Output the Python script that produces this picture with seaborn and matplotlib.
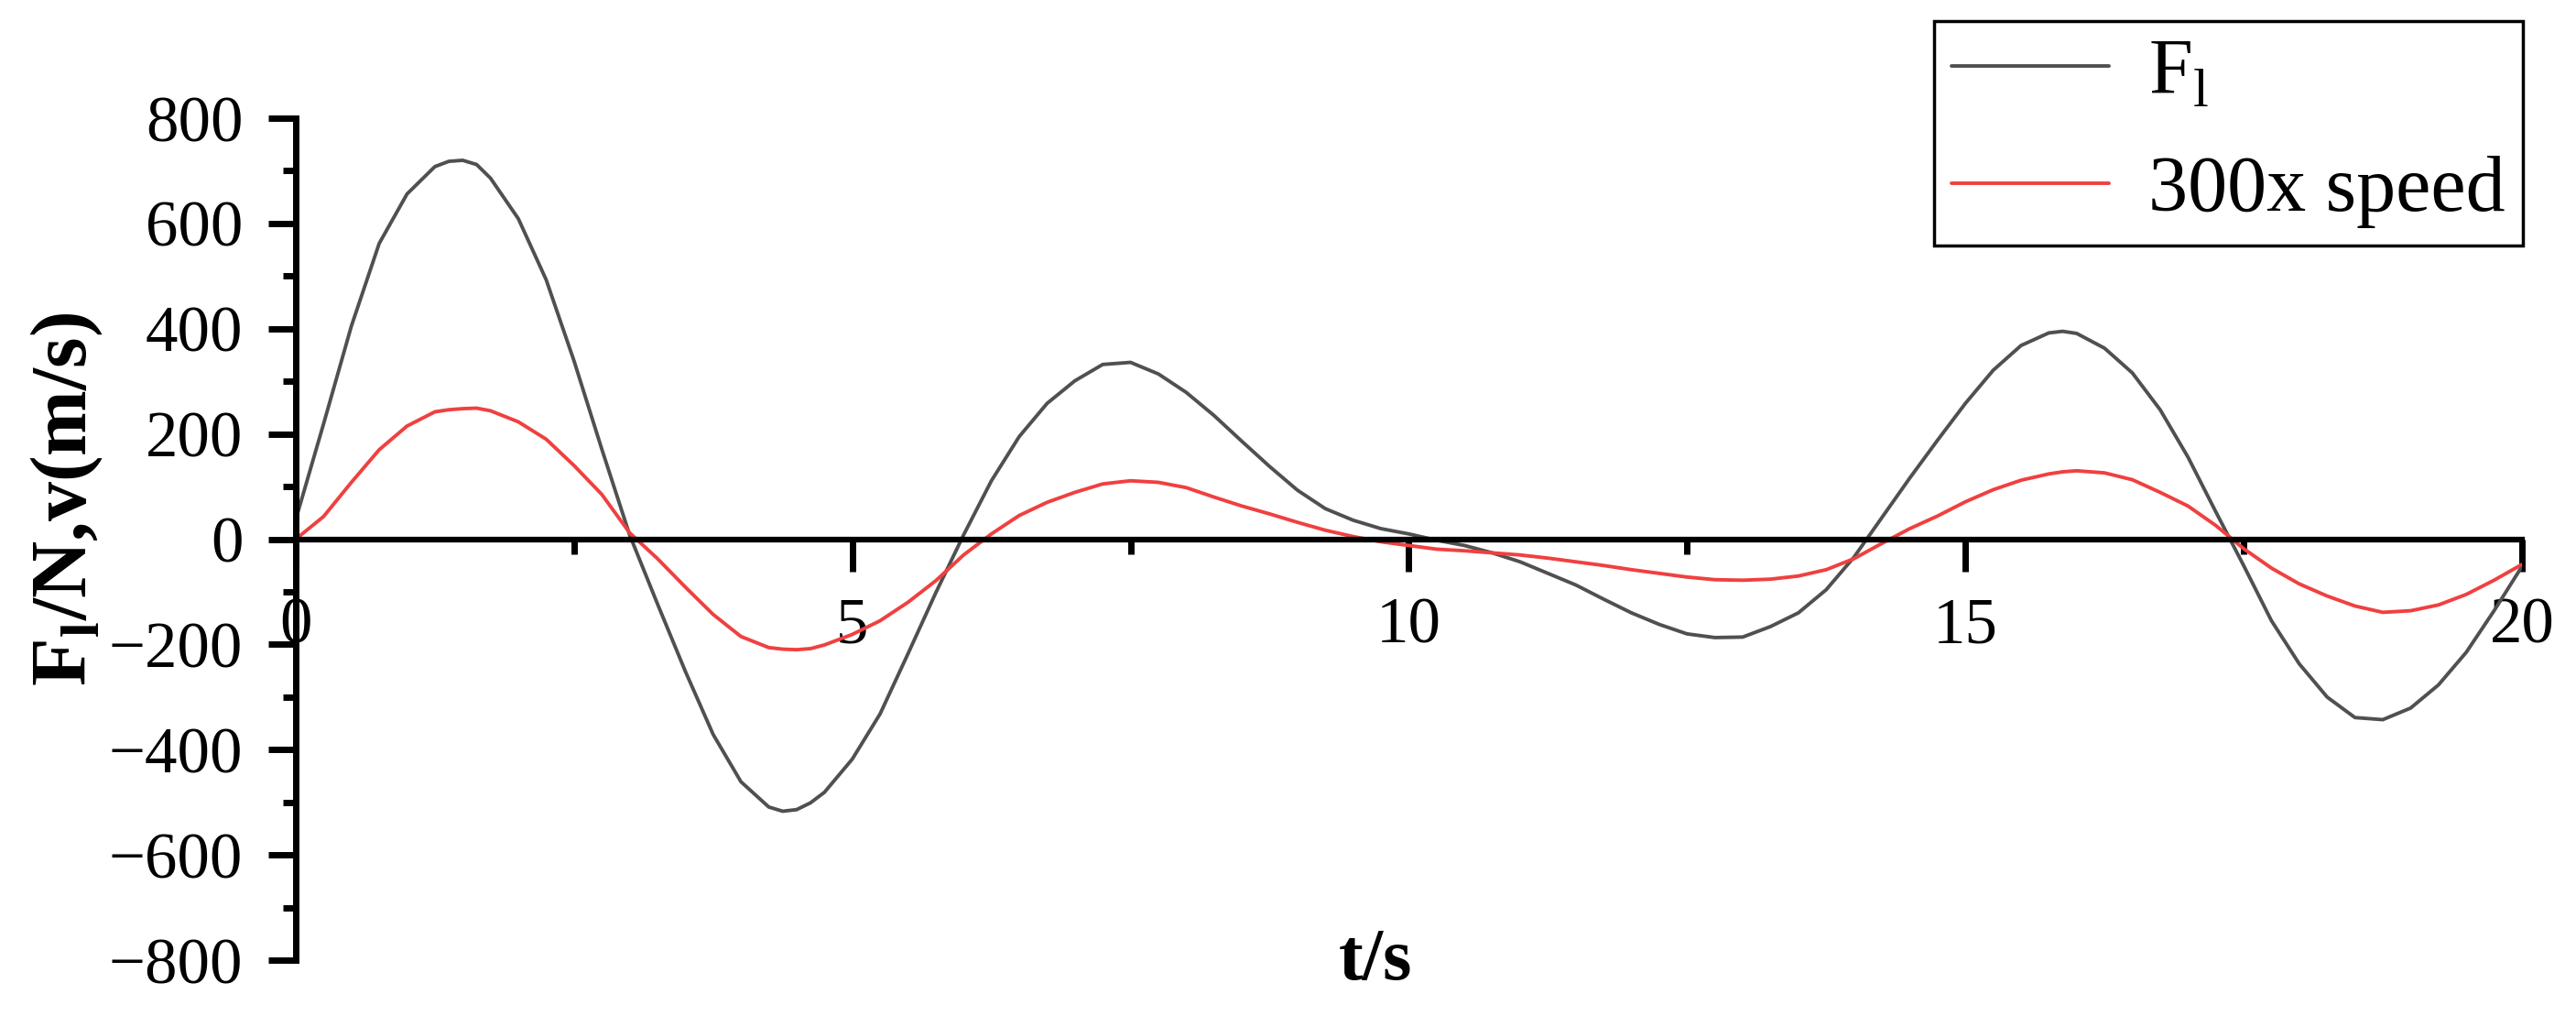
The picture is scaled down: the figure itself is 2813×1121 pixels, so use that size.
import matplotlib
matplotlib.use("Agg")
import matplotlib.pyplot as plt
from matplotlib.ticker import MultipleLocator
import pandas as pd
import seaborn as sns

# time samples (s) (every 0.25 s, a few extra at the peaks)
t = [0, 0.25, 0.5, 0.75, 1, 1.25, 1.375, 1.5, 1.625, 1.75, 2, 2.25, 2.5, 2.75, 3, 3.25, 3.5, 3.75,
     4, 4.25, 4.375, 4.5, 4.625, 4.75, 5, 5.25, 5.5, 5.75, 6, 6.25, 6.5, 6.75, 7, 7.25, 7.5, 7.75,
     8, 8.25, 8.5, 8.75, 9, 9.25, 9.5, 9.75, 10, 10.25, 10.5, 10.75, 11, 11.25, 11.5, 11.75,
     12, 12.25, 12.5, 12.75, 13, 13.25, 13.5, 13.75, 14, 14.25, 14.5, 14.75, 15, 15.25, 15.5, 15.75,
     15.875, 16, 16.25, 16.5, 16.75, 17, 17.25, 17.5, 17.75, 18, 18.25, 18.5, 18.75, 19, 19.25,
     19.5, 19.75, 20]

# F1 force (N)
f1 = [37, 219, 405, 562, 656, 708, 718, 720, 712, 686, 609, 493, 339, 171, 8, -123, -251, -371,
      -461, -509, -517, -514, -501, -481, -418, -332, -218, -102, 8, 111, 195, 258, 301, 332, 336, 314,
      279, 235, 186, 138, 93, 58, 36, 20, 10, -2, -12, -26, -43, -65, -87, -114,
      -140, -162, -180, -187, -186, -166, -140, -96, -34, 41, 116, 188, 258, 321, 368, 392,
      395, 391, 363, 316, 246, 156, 52, -50, -155, -237, -300, -339, -343, -321, -277,
      -215, -136, -52]

# speed scaled by 300
speed = [0, 43, 108, 170, 215, 242, 246, 248, 249, 244, 223, 190, 140, 85, 12, -37, -91, -143,
         -185, -206, -209, -210, -208, -201, -181, -155, -120, -79, -30, 10, 45, 70, 89, 105, 111, 108,
         98, 80, 63, 48, 32, 17, 5, -5, -12, -19, -22, -26, -30, -36, -43, -50,
         -58, -65, -72, -77, -78, -76, -70, -58, -37, -8, 20, 44, 71, 94, 112, 124,
         128, 130, 126, 113, 89, 63, 26, -18, -55, -85, -108, -127, -139, -136, -125,
         -105, -78, -48]

df = pd.DataFrame({"t": t, "F1": f1, "speed": speed})

sns.set_style("ticks")
plt.rcParams["font.family"] = ["Liberation Serif", "DejaVu Serif"]
plt.rcParams["mathtext.fontset"] = "custom"
plt.rcParams["mathtext.rm"] = "Liberation Serif"
plt.rcParams["mathtext.bf"] = "Liberation Serif:bold"
for key in ["text.color", "axes.labelcolor", "axes.edgecolor", "xtick.color", "ytick.color"]:
    plt.rcParams[key] = "black"

fig = plt.figure(figsize=(28.13, 11.21), dpi=100)
ax = fig.add_axes([0.1148, 0.0651, 0.8642, 0.8198])

sns.lineplot(data=df, x="t", y="F1", ax=ax, color="#505050", linewidth=2.8,
             label=r"F$_\mathregular{l}$")
sns.lineplot(data=df, x="t", y="speed", ax=ax, color="#f04040", linewidth=2.8,
             label="300x speed")

ax.set_xlim(0, 20)
ax.set_ylim(-800, 800)

# axes crossing at zero
ax.spines["top"].set_visible(False)
ax.spines["right"].set_visible(False)
ax.spines["bottom"].set_position(("data", 0))
ax.spines["left"].set_linewidth(5)
ax.spines["bottom"].set_linewidth(4.5)

ax.xaxis.set_major_locator(MultipleLocator(5))
ax.xaxis.set_minor_locator(MultipleLocator(2.5))
ax.yaxis.set_major_locator(MultipleLocator(200))
ax.yaxis.set_minor_locator(MultipleLocator(100))

ax.tick_params(axis="x", which="major", direction="out", length=25, width=5,
               labelsize=51, pad=20)
ax.tick_params(axis="x", which="minor", direction="out", length=11.5, width=5)
ax.tick_params(axis="y", which="major", direction="out", length=21.5, width=5,
               labelsize=51, pad=20)
ax.tick_params(axis="y", which="minor", direction="out", length=10, width=5)

ax.set_xlabel("t/s", fontsize=58, fontweight="bold")
ax.xaxis.set_label_coords(0.485, 0.038)
ax.set_ylabel(r"F$_\mathregular{l}$/N,v(m/s)", fontsize=62, fontweight="bold")
ax.yaxis.set_label_coords(-0.0856, 0.547)

leg = ax.legend(loc="upper right", bbox_to_anchor=(0.9794, 0.9795),
                bbox_transform=fig.transFigure, borderaxespad=0,
                fontsize=62, frameon=True, fancybox=False, framealpha=1,
                edgecolor="black", handlelength=2.0, handletextpad=0.5,
                borderpad=0.22, labelspacing=0.56)
leg.get_frame().set_linewidth(2.5)

fig.savefig("out.png", dpi=100)
plt.close(fig)
